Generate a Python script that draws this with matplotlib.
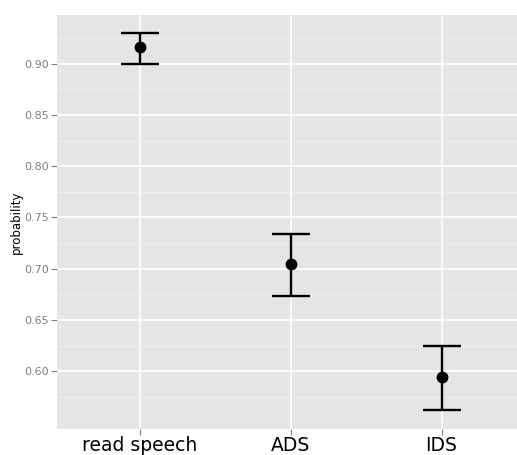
import numpy as np
import matplotlib
matplotlib.use("Agg")
import matplotlib.pyplot as plt

categories = ["read speech", "ADS", "IDS"]
means = [0.916, 0.705, 0.594]
lower = [0.900, 0.673, 0.562]
upper = [0.930, 0.734, 0.625]
yticks = [0.60, 0.65, 0.70, 0.75, 0.80, 0.85, 0.90]

fig = plt.figure(figsize=(5.17, 4.55), dpi=100)
ax = fig.add_axes([57 / 517, 26 / 455, 1 - 57 / 517, 414 / 455])
ax.set_facecolor("#e5e5e5")

x = np.arange(len(categories))
means = np.array(means)
yerr = [means - np.array(lower), np.array(upper) - means]
ax.errorbar(x, means, yerr=yerr, fmt="o", color="black", ms=7.5,
            elinewidth=1.7, capsize=13.5, capthick=1.7, zorder=3)

ax.set_xlim(-0.547, 2.5)
ax.set_ylim(0.5435, 0.9477)
ax.set_xticks(x)
ax.set_xticklabels(categories, fontsize=13.5, color="black")
ax.set_yticks(yticks)
ax.set_yticklabels([f"{t:.2f}" for t in yticks], fontsize=8, color="#7f7f7f")
ax.set_yticks(np.arange(0.575, 0.95, 0.05), minor=True)

ax.grid(True, which="major", color="white", lw=1.2)
ax.grid(True, which="minor", axis="y", color="#f2f2f2", lw=0.6)
ax.set_axisbelow(True)
ax.tick_params(which="major", color="#7f7f7f", length=4, width=0.8, pad=2)
ax.tick_params(which="minor", length=0)
ax.tick_params(axis="x", pad=1)
for s in ax.spines.values():
    s.set_visible(False)

ax.set_ylabel("probability", fontsize=8.5, labelpad=1)

fig.savefig("out.png", dpi=100)
